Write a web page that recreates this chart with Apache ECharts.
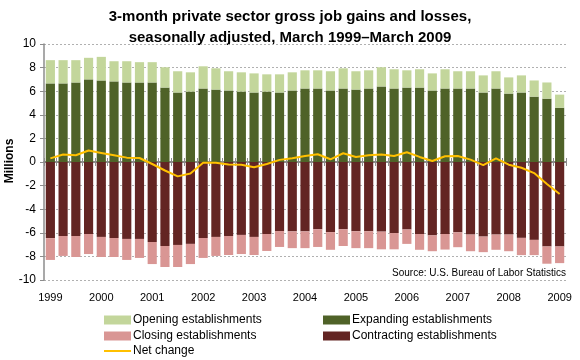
<!DOCTYPE html>
<html>
<head>
<meta charset="utf-8">
<script src="https://cdn.jsdelivr.net/npm/echarts@6/dist/echarts.min.js"></script>
<style>html,body{margin:0;padding:0;background:#fff}#c{width:580px;height:360px}</style>
</head>
<body>
<div id="c"></div>
<script>
const categories = [
 'Mar 1999','Jun 1999','Sep 1999','Dec 1999',
 'Mar 2000','Jun 2000','Sep 2000','Dec 2000',
 'Mar 2001','Jun 2001','Sep 2001','Dec 2001',
 'Mar 2002','Jun 2002','Sep 2002','Dec 2002',
 'Mar 2003','Jun 2003','Sep 2003','Dec 2003',
 'Mar 2004','Jun 2004','Sep 2004','Dec 2004',
 'Mar 2005','Jun 2005','Sep 2005','Dec 2005',
 'Mar 2006','Jun 2006','Sep 2006','Dec 2006',
 'Mar 2007','Jun 2007','Sep 2007','Dec 2007',
 'Mar 2008','Jun 2008','Sep 2008','Dec 2008',
 'Mar 2009'
];
// Millions of jobs
const expanding = [6.66,6.66,6.74,7.00,6.91,6.83,6.74,6.74,6.74,6.31,5.89,5.97,6.23,6.14,6.06,5.97,5.89,5.97,5.89,6.06,
 6.23,6.23,6.06,6.23,6.14,6.23,6.40,6.23,6.31,6.31,6.06,6.23,6.23,6.23,5.89,6.23,5.80,5.89,5.54,5.37,4.60];
const opening = [1.97,1.97,1.89,1.83,2.00,1.71,1.80,1.72,1.72,1.72,1.80,1.63,1.88,1.80,1.63,1.63,1.62,1.46,1.54,1.54,
 1.54,1.54,1.63,1.71,1.55,1.54,1.63,1.63,1.46,1.55,1.45,1.63,1.46,1.46,1.45,1.46,1.37,1.45,1.37,1.37,1.11];
const contracting = [-6.45,-6.27,-6.27,-6.10,-6.35,-6.44,-6.52,-6.52,-6.78,-7.12,-7.03,-6.94,-6.44,-6.35,-6.27,-6.18,-6.35,-6.10,-5.85,-5.88,
 -5.88,-5.70,-5.94,-5.70,-5.87,-5.87,-5.90,-6.02,-5.72,-6.10,-6.22,-6.10,-5.96,-6.15,-6.32,-6.15,-6.15,-6.43,-6.60,-7.16,-7.16];
const closing = [-1.85,-1.69,-1.78,-1.70,-1.70,-1.61,-1.78,-1.61,-1.87,-1.78,-1.87,-1.71,-1.69,-1.61,-1.61,-1.62,-1.53,-1.44,-1.35,-1.42,
 -1.42,-1.50,-1.50,-1.42,-1.43,-1.43,-1.50,-1.38,-1.22,-1.34,-1.34,-1.32,-1.26,-1.41,-1.32,-1.29,-1.41,-1.46,-1.29,-1.46,-1.41];
const netChange = [0.31,0.63,0.57,0.97,0.77,0.57,0.37,0.34,-0.17,-0.72,-1.22,-0.98,-0.06,-0.06,-0.22,-0.23,-0.45,-0.17,0.18,0.31,
 0.51,0.66,0.23,0.74,0.43,0.57,0.63,0.51,0.83,0.43,0.09,0.49,0.51,0.20,-0.26,0.31,-0.23,-0.49,-0.94,-1.86,-2.71];
const yTicks = {min:-10, max:10, interval:2};

const FONT = "'Liberation Sans', Arial, sans-serif";
const chart = echarts.init(document.getElementById('c'), null, {renderer:'canvas'});

function legendItem(name, left, top, icon, h){
  return {
    data:[name], left:left, top:top, icon:icon||'rect', itemWidth:27, itemHeight:h||9,
    selectedMode:false, padding:0,
    textStyle:{fontFamily:FONT, fontSize:12, color:'#000', padding:[0,0,0,-3]}
  };
}

chart.setOption({
  animation:false,
  backgroundColor:'#fff',
  grid:{left:44, right:14, top:44, bottom:80, containLabel:false},
  graphic:[
    {type:'text', x:290, y:6, style:{text:'3-month private sector gross job gains and losses,\nseasonally adjusted, March 1999\u2013March 2009',
      font:'bold 15px '+FONT, fill:'#000', textAlign:'center', lineHeight:21}},
    {type:'text', x:10, y:161, rotation:Math.PI/2, style:{text:'Millions', font:'bold 12px '+FONT, fill:'#000', textAlign:'center', textVerticalAlign:'middle'}},
    {type:'text', x:566, y:273, style:{text:'Source: U.S. Bureau of Labor Statistics', font:'10px '+FONT, fill:'#000', textAlign:'right', textVerticalAlign:'middle'}}
  ],
  legend:[
    legendItem('Opening establishments', 104, 314),
    legendItem('Expanding establishments', 323, 314),
    legendItem('Closing establishments', 104, 330),
    legendItem('Contracting establishments', 323, 330),
    legendItem('Net change', 104, 345, 'rect', 2)
  ],
  xAxis:[
    {type:'category', data:categories, position:'bottom',
     axisLine:{show:false, onZero:false}, axisTick:{show:false}, splitLine:{show:false},
     axisLabel:{interval:(i)=> i%4===0, formatter:(v)=>v.split(' ')[1], margin:12, fontFamily:FONT, fontSize:11, color:'#000'}},
    {type:'category', data:categories, position:'bottom',
     axisLine:{show:true, onZero:true, onZeroAxisIndex:0, lineStyle:{color:'#8c8c8c', width:2}},
     axisTick:{show:true, interval:0, length:4, lineStyle:{color:'#8c8c8c', width:1}},
     axisLabel:{show:false}, splitLine:{show:false}},
    {type:'category', data:categories, position:'top',
     axisLine:{show:false, onZero:true, onZeroAxisIndex:0},
     axisTick:{show:true, interval:0, length:4, lineStyle:{color:'#8c8c8c', width:1}},
     axisLabel:{show:false}, splitLine:{show:false}}
  ],
  yAxis:{type:'value', min:yTicks.min, max:yTicks.max, interval:yTicks.interval,
    axisLine:{show:true, lineStyle:{color:'#8c8c8c', width:1.5}},
    axisTick:{show:true, length:4, lineStyle:{color:'#8c8c8c'}},
    axisLabel:{fontFamily:FONT, fontSize:12, color:'#000', margin:8},
    splitLine:{show:true, lineStyle:{color:'#b0b0b0', type:[2,2], width:1}}
  },
  series:[
    {name:'Expanding establishments', type:'bar', stack:'a', data:expanding, itemStyle:{color:'#4F6228'}, barCategoryGap:'28%'},
    {name:'Opening establishments', type:'bar', stack:'a', data:opening, itemStyle:{color:'#C3D69B'}},
    {name:'Contracting establishments', type:'bar', stack:'a', data:contracting, itemStyle:{color:'#632523'}},
    {name:'Closing establishments', type:'bar', stack:'a', data:closing, itemStyle:{color:'#D99694'}},
    {name:'Net change', type:'line', data:netChange, symbol:'none', z:5,
     lineStyle:{color:'#FFC000', width:2}, itemStyle:{color:'#FFC000'}}
  ]
});
</script>
</body>
</html>
